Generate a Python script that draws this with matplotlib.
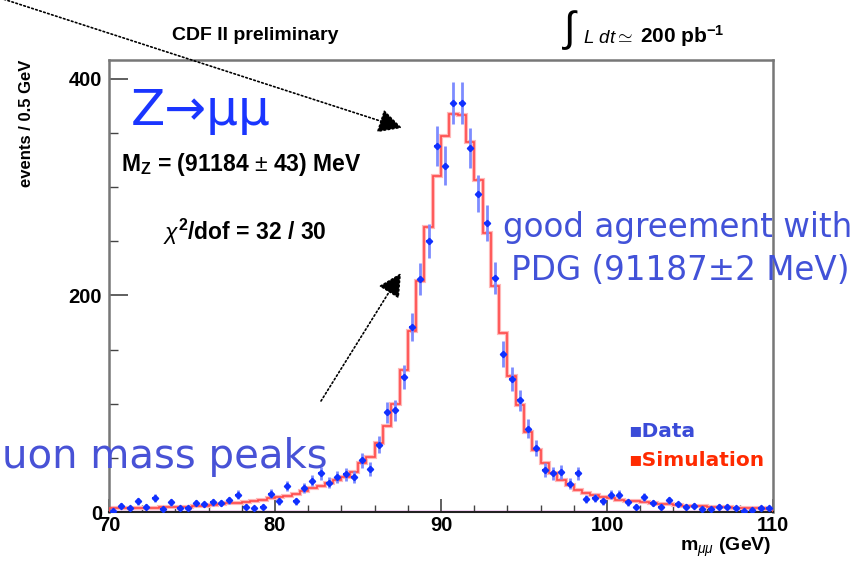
import numpy as np
import matplotlib
matplotlib.use('Agg')
from matplotlib import pyplot as plt
from matplotlib.ticker import MultipleLocator

plt.rcParams['font.family'] = ['Liberation Sans', 'DejaVu Sans']
plt.rcParams['mathtext.fontset'] = 'custom'
plt.rcParams['mathtext.rm'] = 'Liberation Sans'
plt.rcParams['mathtext.it'] = 'Liberation Sans:italic'
plt.rcParams['mathtext.bf'] = 'Liberation Sans:bold'

# dimuon mass, 0.5 GeV bins from 70 to 110 GeV
m_lo, m_hi, bin_w = 70.0, 110.0, 0.5
data_counts = [1, 6, 4, 10, 5, 13, 3, 9, 4, 4,
               8, 7, 9, 8, 11, 16, 5, 4, 5, 17,
               10, 24, 10, 22, 29, 36, 27, 32, 35, 32,
               48, 40, 62, 92, 94, 125, 171, 215, 250, 338,
               320, 378, 378, 336, 294, 267, 216, 146, 123, 103,
               77, 59, 39, 36, 37, 26, 36, 12, 13, 10,
               16, 16, 9, 5, 14, 8, 5, 11, 7, 5,
               6, 3, 3, 5, 5, 4, 1, 2, 4, 4]
sim_counts = [3.3, 3.4, 3.5, 3.6, 3.8, 4.0, 4.2, 4.4, 4.7, 5.0,
              5.5, 6.0, 6.7, 7.3, 8.0, 8.6, 9.5, 10.5, 11.5, 12.6,
              13.5, 15, 17, 19, 22, 24, 26.5, 29.6, 32.6, 37,
              45, 50.5, 63.5, 79, 100, 131, 167, 213, 263, 310,
              347, 368, 367, 342, 307, 258, 209, 165, 126, 99,
              74, 57, 45.5, 36, 29.6, 25, 20, 18, 15.7, 14,
              12.5, 11.5, 10.5, 9.8, 9.0, 8.3, 7.6, 7.0, 6.5, 6.0,
              5.6, 5.2, 4.8, 4.5, 4.2, 4.0, 3.7, 3.5, 3.3, 3.1]
x_ticks = [70, 80, 90, 100, 110]
y_ticks = [0, 200, 400]

edges = np.arange(m_lo, m_hi + bin_w / 2, bin_w)
centers = edges[:-1] + bin_w / 2
data_counts = np.array(data_counts, dtype=float)
sim_counts = np.array(sim_counts, dtype=float)

W, H = 867, 561
fig = plt.figure(figsize=(W / 100, H / 100), dpi=100)
ax = fig.add_axes([109 / W, 1 - 512 / H, (773 - 109) / W, (512 - 60) / H])


def fx(px):
    return px / W


def fy(py):
    return 1 - py / H


# simulation (red step histogram, soft halo)
ax.stairs(sim_counts, edges, color='#ffb8b8', lw=3.0, zorder=2)
ax.stairs(sim_counts, edges, color='#ff4a4a', lw=1.2, zorder=3)
ax.axhline(0, color='#ee66ee', lw=2.5, zorder=1)

# data points
ax.errorbar(centers, data_counts, yerr=np.sqrt(data_counts), fmt='none',
            ecolor='#7d8cff', elinewidth=2.0, capsize=0, zorder=4)
ax.errorbar(centers, data_counts, xerr=0.15, fmt='D', ms=3.2,
            color='#1030ff', ecolor='#1030ff', elinewidth=1.5, capsize=0,
            zorder=5)

ax.set_xlim(m_lo, m_hi)
ax.set_ylim(0, 417.5)
ax.set_xticks(x_ticks)
ax.set_yticks(y_ticks)
ax.xaxis.set_minor_locator(MultipleLocator(2))
ax.yaxis.set_minor_locator(MultipleLocator(50))
ax.tick_params(axis='both', which='both', direction='in', colors='#444444',
               labelcolor='black', top=False, right=False)
ax.tick_params(axis='y', which='major', length=13.5, width=1.2, pad=5,
               labelsize=14.5)
ax.tick_params(axis='y', which='minor', length=6.8, width=1.0)
ax.tick_params(axis='x', which='major', length=9.5, width=1.2, pad=3,
               labelsize=14.5)
ax.tick_params(axis='x', which='minor', length=4.8, width=1.0)
for lab in ax.get_xticklabels() + ax.get_yticklabels():
    lab.set_fontweight('bold')
for s in ['left', 'top', 'right']:
    ax.spines[s].set_color('#777777')
    ax.spines[s].set_linewidth(1.8)
ax.spines['bottom'].set_color('#222222')
ax.spines['bottom'].set_linewidth(1.5)

# axis titles and header
fig.text(fx(27), fy(60), 'events / 0.5 GeV', rotation=90, ha='center',
         va='top', fontsize=12, fontweight='bold')
fig.text(fx(771), fy(551), r'm$_{\mu\mu}$ (GeV)', ha='right', va='baseline',
         fontsize=14, fontweight='bold')
fig.text(fx(255), fy(36), 'CDF II preliminary', ha='center', va='center',
         fontsize=14, fontweight='bold')
fig.text(fx(571), fy(30), r'$\int$', ha='center', va='center', fontsize=30,
         family='DejaVu Sans')
fig.text(fx(583), fy(43), r'$L\ dt \simeq$', ha='left', va='baseline',
         fontsize=13.5)
fig.text(fx(640), fy(43), r'200 pb$^{\mathbf{-1}}$', ha='left', va='baseline',
         fontsize=15, fontweight='bold')

# fit results
fig.text(fx(131), fy(125), 'Z\u2192\u03bc\u03bc', ha='left', va='baseline',
         fontsize=36, color='#1a35ff', family='DejaVu Sans')
fig.text(fx(121), fy(171), r'M$_\mathbf{Z}$ = (91184 $\pm$ 43) MeV',
         ha='left', va='baseline', fontsize=16.5, fontweight='bold')
fig.text(fx(163), fy(240), r'$\chi^{\mathbf{2}}$/dof = 32 / 30',
         ha='left', va='baseline', fontsize=16.5, fontweight='bold')

# legend
fig.text(fx(628), fy(437), '\u25aaData', ha='left', va='baseline',
         fontsize=14.5, fontweight='bold', color='#3a4bd8',
         family='DejaVu Sans')
fig.text(fx(628), fy(466), '\u25aaSimulation', ha='left', va='baseline',
         fontsize=14.5, fontweight='bold', color='#ff2a00',
         family='DejaVu Sans')

# slide overlay
fig.text(fx(678), fy(237), 'good agreement with', ha='center',
         va='baseline', fontsize=23.5, color='#4252d8', family='DejaVu Sans')
fig.text(fx(680), fy(280), 'PDG (91187\u00b12 MeV)', ha='center',
         va='baseline', fontsize=23.5, color='#4252d8', family='DejaVu Sans')
fig.text(fx(2), fy(468), 'uon mass peaks', ha='left', va='baseline',
         fontsize=29, color='#4852d6', family='DejaVu Sans', zorder=10)

arrow_kw = dict(arrowstyle='-|>,head_length=1.45,head_width=0.75',
                linestyle=(0, (1, 1.5)), lw=1.2, color='black',
                mutation_scale=10, shrinkA=0, shrinkB=0)
ax.annotate('', xy=(402, H - 128), xytext=(0, H + 2),
            xycoords='figure pixels', textcoords='figure pixels',
            arrowprops=arrow_kw, annotation_clip=False)
ax.annotate('', xy=(401, H - 273), xytext=(321, H - 401),
            xycoords='figure pixels', textcoords='figure pixels',
            arrowprops=arrow_kw, annotation_clip=False)

fig.savefig('out.png', dpi=100)
